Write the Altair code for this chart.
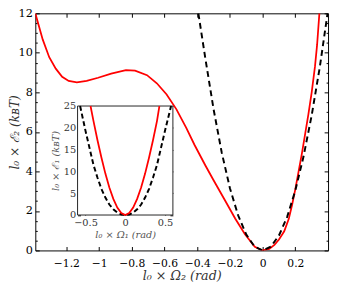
import altair as alt
import pandas as pd

# ---------------- data ----------------
main_red_x = [-1.39, -1.345, -1.305, -1.265, -1.226, -1.186, -1.136, -1.076, -1.006,
              -0.926, -0.836, -0.78, -0.707, -0.647, -0.587, -0.527, -0.467, -0.417,
              -0.35, -0.3, -0.228, -0.168, -0.108, -0.048, 0.0, 0.04, 0.072, 0.1,
              0.132, 0.16, 0.18, 0.2, 0.22, 0.24, 0.26, 0.28, 0.3, 0.32, 0.333, 0.347]
main_red_y = [12.0, 10.68, 9.78, 9.2, 8.79, 8.58, 8.51, 8.58, 8.74,
              8.95, 9.12, 9.1, 8.87, 8.46, 7.89, 7.14, 6.2, 5.35,
              4.3, 3.55, 2.5, 1.62, 0.82, 0.18, 0.0, 0.08, 0.28, 0.55,
              0.97, 1.6, 2.3, 3.1, 4.0, 4.9, 5.9, 6.9, 8.0, 9.3, 10.4, 12.0]

main_dash_x = [-0.393, -0.35, -0.3, -0.25, -0.2, -0.15, -0.1, -0.05, 0.0,
               0.05, 0.1, 0.15, 0.2, 0.25, 0.3, 0.35, 0.397]
main_dash_y = [12.0, 9.7, 7.15, 4.95, 3.15, 1.78, 0.8, 0.2, 0.0,
               0.19, 0.76, 1.7, 3.04, 4.75, 6.84, 9.3, 12.0]

inset_red_x = [-0.437, -0.4, -0.35, -0.3, -0.25, -0.2, -0.15, -0.1, -0.05, 0.0,
               0.05, 0.1, 0.15, 0.2, 0.25, 0.3, 0.35, 0.4, 0.43]
inset_red_y = [25.0, 21.6, 17.2, 13.2, 9.5, 6.3, 3.7, 1.7, 0.45, 0.0,
               0.45, 1.7, 3.7, 6.3, 9.5, 13.2, 17.2, 21.6, 25.0]

inset_dash_x = [-0.568, -0.5, -0.45, -0.4, -0.35, -0.3, -0.25, -0.2, -0.15, -0.1, -0.05, 0.0,
                0.05, 0.1, 0.15, 0.2, 0.25, 0.3, 0.35, 0.4, 0.45, 0.5, 0.577]
inset_dash_y = [25.0, 19.3, 15.4, 11.5, 8.6, 6.0, 4.0, 2.4, 1.3, 0.55, 0.12, 0.0,
                0.12, 0.55, 1.3, 2.4, 4.0, 6.0, 8.6, 11.5, 15.4, 19.3, 25.0]

x_ticks = [-1.2, -1.0, -0.8, -0.6, -0.4, -0.2, 0.0, 0.2]
y_ticks = [0, 2, 4, 6, 8, 10, 12]
y_minor = [0, 0.5, 1, 1.5, 2, 2.5, 3, 3.5, 4, 4.5, 5, 5.5, 6, 6.5, 7, 7.5, 8,
           8.5, 9, 9.5, 10, 10.5, 11, 11.5, 12]
inset_x_ticks = [-0.5, 0.0, 0.5]
inset_y_ticks = [0, 5, 10, 15, 20, 25]

X_DOM = [-1.39, 0.4]
Y_DOM = [0, 12]
IN_X_DOM = [-0.6, 0.6]
IN_Y_DOM = [0, 25]

# ---------------- layout ----------------
W, H = 300, 243
IN_L, IN_R, IN_T, IN_B = 43.3, 141.0, 95.0, 206.7

FONT = "DejaVu Serif"
RED = "#ff0000"

main_red = pd.DataFrame({"x": main_red_x, "y": main_red_y})
main_dash = pd.DataFrame({"x": main_dash_x, "y": main_dash_y})
inset_red = pd.DataFrame({"x": inset_red_x, "y": inset_red_y})
inset_dash = pd.DataFrame({"x": inset_dash_x, "y": inset_dash_y})
frame = pd.DataFrame({"x0": [IN_X_DOM[0]], "x1": [IN_X_DOM[1]],
                      "y0": [IN_Y_DOM[0]], "y1": [IN_Y_DOM[1]]})

main_xs = alt.Scale(domain=X_DOM, nice=False, zero=False)
main_ys = alt.Scale(domain=Y_DOM, nice=False, zero=False)
in_xs = alt.Scale(domain=IN_X_DOM, nice=False, zero=False, range=[IN_L, IN_R])
in_ys = alt.Scale(domain=IN_Y_DOM, nice=False, zero=False, range=[IN_B, IN_T])

major_minor = {"condition": {"test": "datum.value % 2 === 0", "value": 4}, "value": 2}


def tick_axis(orient, offset, values, size):
    return alt.Axis(orient=orient, offset=offset, values=values, tickSize=size,
                    labels=False, domain=False, grid=False, title=None,
                    tickColor="black", tickWidth=1)


layer_a = alt.Chart(main_red).mark_line(color=RED, strokeWidth=1.8, clip=True).encode(
    x=alt.X("x:Q", scale=main_xs,
            axis=alt.Axis(orient="bottom", values=x_ticks, format="~g", tickSize=0,
                          domain=False, grid=False, labelFont=FONT, labelFontSize=11,
                          labelColor="black", labelPadding=7,
                          title="l₀ × Ω₂  (rad)", titleFont=FONT, titleFontSize=13,
                          titleFontStyle="italic", titleFontWeight="normal",
                          titleColor="#333333", titlePadding=2)),
    y=alt.Y("y:Q", scale=main_ys,
            axis=alt.Axis(orient="left", values=y_ticks, format="~g", tickSize=0,
                          domain=False, grid=False, labelFont=FONT, labelFontSize=11.5,
                          labelColor="black", labelPadding=3,
                          title="l₀ × ℰ₂  (kʙT)", titleFont=FONT, titleFontSize=12.5,
                          titleFontStyle="italic", titleFontWeight="normal",
                          titleColor="#333333", titleX=-21, titleBaseline="middle",
                          titleAngle=270)),
    order=alt.Order("x:Q"),
)

layer_b = alt.Chart(main_dash).mark_line(color="black", strokeWidth=2,
                                         strokeDash=[6, 4], clip=True).encode(
    x=alt.X("x:Q", scale=main_xs, axis=tick_axis("top", -H, x_ticks, 4)),
    y=alt.Y("y:Q", scale=main_ys, axis=tick_axis("right", -W, y_minor, major_minor)),
    order=alt.Order("x:Q"),
)

layer_c = alt.Chart(main_red).mark_line(opacity=0, clip=True).encode(
    x=alt.X("x:Q", scale=main_xs, axis=tick_axis("bottom", -H, x_ticks, 4)),
    y=alt.Y("y:Q", scale=main_ys, axis=tick_axis("left", -W, y_minor, major_minor)),
    order=alt.Order("x:Q"),
)

layer_d = alt.Chart(frame).mark_rect(fill="white", stroke="#222222", strokeWidth=1).encode(
    x=alt.X("x0:Q", scale=in_xs,
            axis=alt.Axis(orient="bottom", offset=IN_B - H, values=inset_x_ticks,
                          format="~g", tickSize=0, domain=False, grid=False,
                          labelFont=FONT, labelFontSize=10, labelColor="#333333",
                          labelPadding=3, title="l₀ × Ω₁  (rad)", titleFont=FONT,
                          titleFontSize=10, titleFontStyle="italic",
                          titleFontWeight="normal", titleColor="#555555",
                          titlePadding=2)),
    x2="x1:Q",
    y=alt.Y("y0:Q", scale=in_ys,
            axis=alt.Axis(orient="left", offset=-IN_L, values=inset_y_ticks,
                          format="~g", tickSize=0, domain=False, grid=False,
                          labelFont=FONT, labelFontSize=10, labelColor="#333333",
                          labelPadding=2, title="l₀ × ℰ₁  (kʙT)", titleFont=FONT,
                          titleFontSize=10, titleFontStyle="italic",
                          titleFontWeight="normal", titleColor="#555555",
                          titlePadding=3)),
    y2="y1:Q",
)

layer_e = alt.Chart(inset_dash).mark_line(color="black", strokeWidth=2,
                                          strokeDash=[5, 3]).encode(
    x=alt.X("x:Q", scale=in_xs, axis=tick_axis("top", -IN_B, inset_x_ticks, 3)),
    y=alt.Y("y:Q", scale=in_ys, axis=tick_axis("right", IN_L - W, inset_y_ticks, 3)),
    order=alt.Order("x:Q"),
)

layer_f = alt.Chart(inset_red).mark_line(color=RED, strokeWidth=1.8).encode(
    x=alt.X("x:Q", scale=in_xs, axis=tick_axis("bottom", IN_T - H, inset_x_ticks, 3)),
    y=alt.Y("y:Q", scale=in_ys, axis=tick_axis("left", -IN_R, inset_y_ticks, 3)),
    order=alt.Order("x:Q"),
)

chart = alt.layer(layer_a, layer_b, layer_c, layer_d, layer_e, layer_f).resolve_scale(
    x="independent", y="independent"
).resolve_axis(
    x="independent", y="independent"
).properties(
    width=W, height=H, autosize="none",
    padding={"left": 28, "top": 2, "right": 2, "bottom": 34},
    background="white",
).configure_view(stroke="black", strokeWidth=1)

chart.save("out.html", embed_options={"renderer": "svg", "actions": False})
